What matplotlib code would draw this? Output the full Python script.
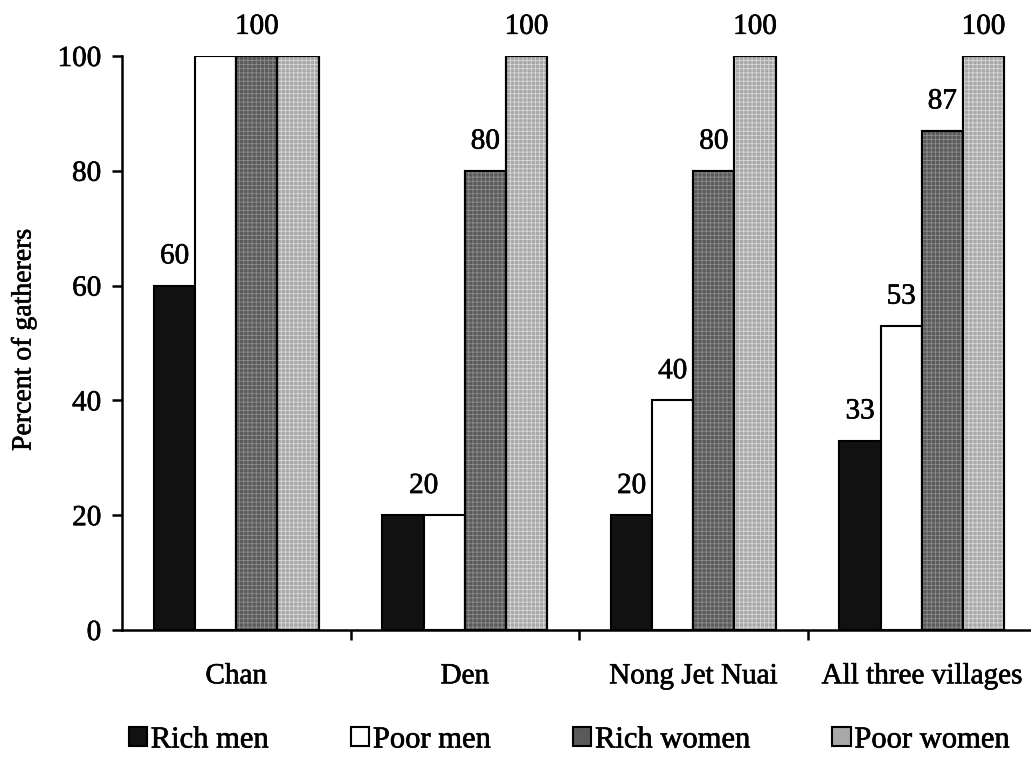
import numpy as np
import matplotlib
matplotlib.use("Agg")
import matplotlib.pyplot as plt
import matplotlib.patheffects as pe

# data
villages = ["Chan", "Den", "Nong Jet Nuai", "All three villages"]
groups = ["Rich men", "Poor men", "Rich women", "Poor women"]
rich_men = [60, 20, 20, 33]
poor_men = [100, 20, 40, 53]
rich_women = [100, 80, 80, 87]
poor_women = [100, 100, 100, 100]

# bars that share one value label, per village
label_sets = [
    [[0], [1, 2, 3]],
    [[0, 1], [2], [3]],
    [[0], [1], [2], [3]],
    [[0], [1], [2], [3]],
]

face = ["#111111", "white", "#5a5a5a", "#a8a8a8"]
texture = [None, None, "#8c8c8c", "#d8d8d8"]

plt.rcParams["font.family"] = ["Liberation Serif", "DejaVu Serif"]
plt.rcParams["hatch.linewidth"] = 0.6

# slightly heavier type, like a printed page
ink = [pe.withStroke(linewidth=0.45, foreground="black")]

fig = plt.figure(figsize=(10.31, 7.65), dpi=100)
ax = fig.add_axes([122 / 1031, 135 / 765, 914 / 1031, 574 / 765])

series = [rich_men, poor_men, rich_women, poor_women]
x = np.arange(len(villages))
w = 0.18
offsets = (np.arange(4) - 1.5) * w

handles = []
for i, vals in enumerate(series):
    b = ax.bar(x + offsets[i], vals, w, color=face[i], edgecolor="black",
               linewidth=1.5, label=groups[i], zorder=2)
    if texture[i] is not None:
        ax.bar(x + offsets[i], vals, w, facecolor="none", edgecolor=texture[i],
               hatch="++++", linewidth=0, zorder=2.5)
        ax.bar(x + offsets[i], vals, w, facecolor="none", edgecolor="black",
               linewidth=1.5, zorder=3)
    handles.append(b)

# value labels
for v, sets in enumerate(label_sets):
    for s in sets:
        pos = x[v] + np.mean([offsets[k] for k in s])
        val = series[s[0]][v]
        ax.annotate(str(val), (pos, val), xytext=(0, 21), textcoords="offset points",
                    ha="center", va="center", fontsize=21, path_effects=ink)

ax.set_xlim(-0.5, 3.5)
ax.set_ylim(0, 100)
ax.set_yticks(np.arange(0, 101, 20))
ax.tick_params(axis="y", labelsize=21, length=7, width=1.8, pad=8, direction="out")

# boundary ticks between villages, names centred below
ax.set_xticks([0.5, 1.5, 2.5])
ax.set_xticklabels([])
ax.tick_params(axis="x", which="major", length=7, width=1.8, direction="out")
ax.set_xticks(x, minor=True)
ax.set_xticklabels(villages, minor=True)
ax.tick_params(axis="x", which="minor", length=0, labelsize=21, pad=24)

for lab in ax.get_yticklabels() + ax.get_xticklabels(minor=True):
    lab.set_path_effects(ink)

for side in ["top", "right"]:
    ax.spines[side].set_visible(False)
for side in ["left", "bottom"]:
    ax.spines[side].set_linewidth(1.8)

fig.text(24 / 1031, 1 - 340 / 765, "Percent of gatherers", rotation=90,
         ha="center", va="center", fontsize=20, path_effects=ink)

leg = fig.legend(handles=handles, labels=groups, loc="center",
                 bbox_to_anchor=(569 / 1031, 1 - 740 / 765), ncol=4, frameon=False,
                 fontsize=22, handlelength=0.6, handleheight=0.6,
                 handletextpad=0.12, columnspacing=2.7, borderaxespad=0)
for t in leg.get_texts():
    t.set_path_effects(ink)

fig.savefig("out.png", dpi=100)
